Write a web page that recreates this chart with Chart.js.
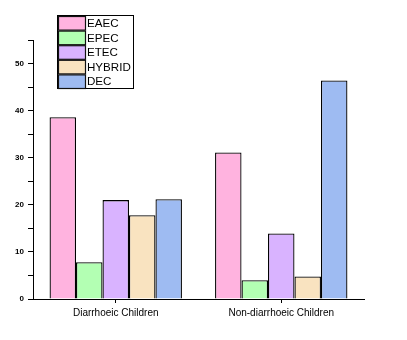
<!DOCTYPE html>
<html>
<head>
<meta charset="utf-8">
<script src="https://cdn.jsdelivr.net/npm/chart.js@4/dist/chart.umd.min.js"></script>
<style>
html,body{margin:0;padding:0;background:#fff;}
canvas{display:block;}
</style>
</head>
<body>
<canvas id="c" width="407" height="340"></canvas>
<script>
const categories = ["Diarrhoeic Children", "Non-diarrhoeic Children"];
const seriesNames = ["EAEC", "EPEC", "ETEC", "HYBRID", "DEC"];
const EAEC = [38.6, 31.1];
const EPEC = [7.8, 4.0];
const ETEC = [21.0, 13.9];
const HYBRID = [17.8, 4.8];
const DEC = [21.2, 46.4];
const yTickLabels = [0, 10, 20, 30, 40, 50];
const colors = ["#FFB3DF", "#B3FFB3", "#D9B3FF", "#F9E3C0", "#9EBBF2"];

const values = [EAEC, EPEC, ETEC, HYBRID, DEC];

const legendPlugin = {
  id: 'boxLegend',
  afterDraw(chart) {
    const ctx = chart.ctx;
    const x0 = 57, y0 = 15, w = 76, itemH = 14.6;
    const n = chart.data.datasets.length;
    ctx.save();
    ctx.fillStyle = '#fff';
    ctx.fillRect(x0, y0, w, itemH * n);
    ctx.strokeStyle = '#000';
    ctx.lineWidth = 1;
    ctx.strokeRect(x0 + 0.5, y0 + 0.5, w, itemH * n);
    ctx.font = '11.6px "Liberation Sans", Arial, sans-serif';
    ctx.textBaseline = 'middle';
    ctx.textAlign = 'left';
    chart.data.datasets.forEach((ds, i) => {
      const sy = y0 + 1.5 + i * itemH;
      ctx.fillStyle = ds.backgroundColor;
      ctx.fillRect(x0 + 1.5, sy, 27, itemH - 1);
      ctx.strokeStyle = '#111';
      ctx.lineWidth = 1.2;
      ctx.strokeRect(x0 + 1.5, sy, 27, itemH - 1);
      ctx.fillStyle = '#000';
      ctx.fillText(ds.label, x0 + 30, sy + itemH / 2);
    });
    ctx.restore();
  }
};

new Chart(document.getElementById('c'), {
  type: 'bar',
  data: {
    labels: categories,
    datasets: seriesNames.map((name, i) => ({
      label: name,
      data: values[i],
      backgroundColor: colors[i],
      borderColor: '#000',
      borderWidth: 1.3,
      barPercentage: 1.0,
      categoryPercentage: 0.8
    }))
  },
  options: {
    responsive: false,
    animation: false,
    devicePixelRatio: 1,
    layout: { padding: { top: 40, right: 43, left: 0, bottom: 0 } },
    plugins: {
      legend: { display: false },
      tooltip: { enabled: false }
    },
    scales: {
      x: {
        grid: {
          display: true,
          drawOnChartArea: false,
          offset: false,
          tickLength: 4,
          color: '#000',
          tickColor: '#000'
        },
        border: { display: true, color: '#000', width: 1 },
        ticks: {
          color: '#000',
          padding: 4,
          font: { family: '"Liberation Sans", Arial, sans-serif', size: 10 }
        },
        afterFit(scale) { scale.height = 41; }
      },
      y: {
        min: 0,
        max: 55,
        grid: {
          display: true,
          drawOnChartArea: false,
          tickLength: 5,
          color: '#000',
          tickColor: '#000'
        },
        border: { display: true, color: '#000', width: 1 },
        ticks: {
          stepSize: 5,
          color: '#000',
          padding: 4,
          font: { family: '"Liberation Sans", Arial, sans-serif', size: 8, weight: 'bold' },
          callback: (v) => yTickLabels.includes(v) ? String(v) : ''
        },
        afterFit(scale) { scale.width = 33; }
      }
    }
  },
  plugins: [legendPlugin]
});
</script>
</body>
</html>
